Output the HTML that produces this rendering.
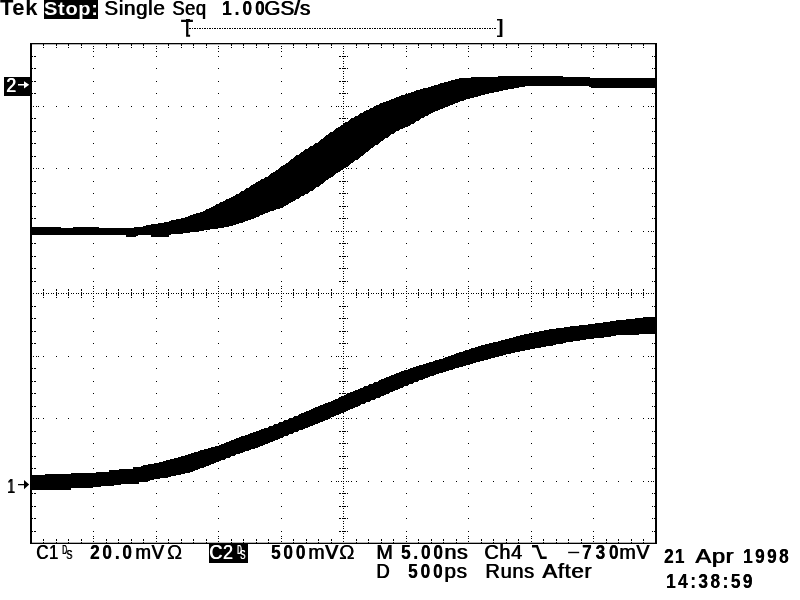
<!DOCTYPE html>
<html><head><meta charset="utf-8"><title>Tek</title>
<style>
html,body{margin:0;padding:0;background:#fff;}
body{width:800px;height:600px;position:relative;overflow:hidden;font-family:"Liberation Sans",sans-serif;color:#000;}
.t{position:absolute;white-space:pre;transform-origin:0 50%;}
.bx{position:absolute;background:#000;}
svg{position:absolute;left:0;top:0;}
.sm{position:absolute;font-size:12.5px;line-height:12px;white-space:pre;transform-origin:0 50%;text-shadow:0.9px 0 0 currentColor;}
</style></head><body>
<svg width="800" height="600" viewBox="0 0 800 600">
<g transform="translate(0.6 0.5) scale(1.25)" shape-rendering="crispEdges"><path d="M34 35h1v1h-1zM44 35h1v1h-1zM54 35h1v1h-1zM64 35h1v1h-1zM84 35h1v1h-1zM94 35h1v1h-1zM104 35h1v1h-1zM114 35h1v1h-1zM134 35h1v1h-1zM144 35h1v1h-1zM154 35h1v1h-1zM164 35h1v1h-1zM184 35h1v1h-1zM194 35h1v1h-1zM204 35h1v1h-1zM214 35h1v1h-1zM234 35h1v1h-1zM244 35h1v1h-1zM254 35h1v1h-1zM264 35h1v1h-1zM284 35h1v1h-1zM294 35h1v1h-1zM304 35h1v1h-1zM314 35h1v1h-1zM334 35h1v1h-1zM344 35h1v1h-1zM354 35h1v1h-1zM364 35h1v1h-1zM384 35h1v1h-1zM394 35h1v1h-1zM404 35h1v1h-1zM414 35h1v1h-1zM434 35h1v1h-1zM444 35h1v1h-1zM454 35h1v1h-1zM464 35h1v1h-1zM484 35h1v1h-1zM494 35h1v1h-1zM504 35h1v1h-1zM514 35h1v1h-1zM74 36h1v1h-1zM124 36h1v1h-1zM174 36h1v1h-1zM224 36h1v1h-1zM274 36h1v1h-1zM324 36h1v1h-1zM374 36h1v1h-1zM424 36h1v1h-1zM474 36h1v1h-1zM34 37h1v1h-1zM44 37h1v1h-1zM54 37h1v1h-1zM64 37h1v1h-1zM84 37h1v1h-1zM94 37h1v1h-1zM104 37h1v1h-1zM114 37h1v1h-1zM134 37h1v1h-1zM144 37h1v1h-1zM154 37h1v1h-1zM164 37h1v1h-1zM184 37h1v1h-1zM194 37h1v1h-1zM204 37h1v1h-1zM214 37h1v1h-1zM234 37h1v1h-1zM244 37h1v1h-1zM254 37h1v1h-1zM264 37h1v1h-1zM284 37h1v1h-1zM294 37h1v1h-1zM304 37h1v1h-1zM314 37h1v1h-1zM334 37h1v1h-1zM344 37h1v1h-1zM354 37h1v1h-1zM364 37h1v1h-1zM384 37h1v1h-1zM394 37h1v1h-1zM404 37h1v1h-1zM414 37h1v1h-1zM434 37h1v1h-1zM444 37h1v1h-1zM454 37h1v1h-1zM464 37h1v1h-1zM484 37h1v1h-1zM494 37h1v1h-1zM504 37h1v1h-1zM514 37h1v1h-1zM74 38h1v1h-1zM124 38h1v1h-1zM174 38h1v1h-1zM224 38h1v1h-1zM274 38h1v1h-1zM324 38h1v1h-1zM374 38h1v1h-1zM424 38h1v1h-1zM474 38h1v1h-1zM74 40h1v1h-1zM124 40h1v1h-1zM174 40h1v1h-1zM224 40h1v1h-1zM274 40h1v1h-1zM324 40h1v1h-1zM374 40h1v1h-1zM424 40h1v1h-1zM474 40h1v1h-1zM274 42h1v1h-1zM25 44h1v1h-1zM27 44h1v1h-1zM74 44h1v1h-1zM124 44h1v1h-1zM174 44h1v1h-1zM224 44h1v1h-1zM271 44h1v1h-1zM273 44h1v1h-1zM274 44h1v1h-1zM275 44h1v1h-1zM277 44h1v1h-1zM324 44h1v1h-1zM374 44h1v1h-1zM424 44h1v1h-1zM474 44h1v1h-1zM521 44h1v1h-1zM523 44h1v1h-1zM274 46h1v1h-1zM274 48h1v1h-1zM274 50h1v1h-1zM274 52h1v1h-1zM25 54h1v1h-1zM27 54h1v1h-1zM74 54h1v1h-1zM124 54h1v1h-1zM174 54h1v1h-1zM224 54h1v1h-1zM271 54h1v1h-1zM273 54h1v1h-1zM274 54h1v1h-1zM275 54h1v1h-1zM277 54h1v1h-1zM324 54h1v1h-1zM374 54h1v1h-1zM424 54h1v1h-1zM474 54h1v1h-1zM521 54h1v1h-1zM523 54h1v1h-1zM274 56h1v1h-1zM274 58h1v1h-1zM274 60h1v1h-1zM274 62h1v1h-1zM25 64h1v1h-1zM27 64h1v1h-1zM74 64h1v1h-1zM124 64h1v1h-1zM174 64h1v1h-1zM224 64h1v1h-1zM271 64h1v1h-1zM273 64h1v1h-1zM274 64h1v1h-1zM275 64h1v1h-1zM277 64h1v1h-1zM324 64h1v1h-1zM374 64h1v1h-1zM424 64h1v1h-1zM474 64h1v1h-1zM521 64h1v1h-1zM523 64h1v1h-1zM274 66h1v1h-1zM274 68h1v1h-1zM274 70h1v1h-1zM274 72h1v1h-1zM25 74h1v1h-1zM27 74h1v1h-1zM74 74h1v1h-1zM124 74h1v1h-1zM174 74h1v1h-1zM224 74h1v1h-1zM271 74h1v1h-1zM273 74h1v1h-1zM274 74h1v1h-1zM275 74h1v1h-1zM277 74h1v1h-1zM324 74h1v1h-1zM374 74h1v1h-1zM424 74h1v1h-1zM474 74h1v1h-1zM521 74h1v1h-1zM523 74h1v1h-1zM274 76h1v1h-1zM274 78h1v1h-1zM274 80h1v1h-1zM274 82h1v1h-1zM26 84h1v1h-1zM28 84h1v1h-1zM30 84h1v1h-1zM34 84h1v1h-1zM44 84h1v1h-1zM54 84h1v1h-1zM64 84h1v1h-1zM74 84h1v1h-1zM84 84h1v1h-1zM94 84h1v1h-1zM104 84h1v1h-1zM114 84h1v1h-1zM124 84h1v1h-1zM134 84h1v1h-1zM144 84h1v1h-1zM154 84h1v1h-1zM164 84h1v1h-1zM174 84h1v1h-1zM184 84h1v1h-1zM194 84h1v1h-1zM204 84h1v1h-1zM214 84h1v1h-1zM224 84h1v1h-1zM234 84h1v1h-1zM244 84h1v1h-1zM254 84h1v1h-1zM264 84h1v1h-1zM268 84h1v1h-1zM270 84h1v1h-1zM272 84h1v1h-1zM274 84h1v1h-1zM276 84h1v1h-1zM278 84h1v1h-1zM280 84h1v1h-1zM284 84h1v1h-1zM294 84h1v1h-1zM304 84h1v1h-1zM314 84h1v1h-1zM324 84h1v1h-1zM334 84h1v1h-1zM344 84h1v1h-1zM354 84h1v1h-1zM364 84h1v1h-1zM374 84h1v1h-1zM384 84h1v1h-1zM394 84h1v1h-1zM404 84h1v1h-1zM414 84h1v1h-1zM424 84h1v1h-1zM434 84h1v1h-1zM444 84h1v1h-1zM454 84h1v1h-1zM464 84h1v1h-1zM474 84h1v1h-1zM484 84h1v1h-1zM494 84h1v1h-1zM504 84h1v1h-1zM514 84h1v1h-1zM518 84h1v1h-1zM520 84h1v1h-1zM522 84h1v1h-1zM274 86h1v1h-1zM274 88h1v1h-1zM274 90h1v1h-1zM274 92h1v1h-1zM25 94h1v1h-1zM27 94h1v1h-1zM74 94h1v1h-1zM124 94h1v1h-1zM174 94h1v1h-1zM224 94h1v1h-1zM271 94h1v1h-1zM273 94h1v1h-1zM274 94h1v1h-1zM275 94h1v1h-1zM277 94h1v1h-1zM324 94h1v1h-1zM374 94h1v1h-1zM424 94h1v1h-1zM474 94h1v1h-1zM521 94h1v1h-1zM523 94h1v1h-1zM274 96h1v1h-1zM274 98h1v1h-1zM274 100h1v1h-1zM274 102h1v1h-1zM25 104h1v1h-1zM27 104h1v1h-1zM74 104h1v1h-1zM124 104h1v1h-1zM174 104h1v1h-1zM224 104h1v1h-1zM271 104h1v1h-1zM273 104h1v1h-1zM274 104h1v1h-1zM275 104h1v1h-1zM277 104h1v1h-1zM324 104h1v1h-1zM374 104h1v1h-1zM424 104h1v1h-1zM474 104h1v1h-1zM521 104h1v1h-1zM523 104h1v1h-1zM274 106h1v1h-1zM274 108h1v1h-1zM274 110h1v1h-1zM274 112h1v1h-1zM25 114h1v1h-1zM27 114h1v1h-1zM74 114h1v1h-1zM124 114h1v1h-1zM174 114h1v1h-1zM224 114h1v1h-1zM271 114h1v1h-1zM273 114h1v1h-1zM274 114h1v1h-1zM275 114h1v1h-1zM277 114h1v1h-1zM324 114h1v1h-1zM374 114h1v1h-1zM424 114h1v1h-1zM474 114h1v1h-1zM521 114h1v1h-1zM523 114h1v1h-1zM274 116h1v1h-1zM274 118h1v1h-1zM274 120h1v1h-1zM274 122h1v1h-1zM25 124h1v1h-1zM27 124h1v1h-1zM74 124h1v1h-1zM124 124h1v1h-1zM174 124h1v1h-1zM224 124h1v1h-1zM271 124h1v1h-1zM273 124h1v1h-1zM274 124h1v1h-1zM275 124h1v1h-1zM277 124h1v1h-1zM324 124h1v1h-1zM374 124h1v1h-1zM424 124h1v1h-1zM474 124h1v1h-1zM521 124h1v1h-1zM523 124h1v1h-1zM274 126h1v1h-1zM274 128h1v1h-1zM274 130h1v1h-1zM274 132h1v1h-1zM26 134h1v1h-1zM28 134h1v1h-1zM30 134h1v1h-1zM34 134h1v1h-1zM44 134h1v1h-1zM54 134h1v1h-1zM64 134h1v1h-1zM74 134h1v1h-1zM84 134h1v1h-1zM94 134h1v1h-1zM104 134h1v1h-1zM114 134h1v1h-1zM124 134h1v1h-1zM134 134h1v1h-1zM144 134h1v1h-1zM154 134h1v1h-1zM164 134h1v1h-1zM174 134h1v1h-1zM184 134h1v1h-1zM194 134h1v1h-1zM204 134h1v1h-1zM214 134h1v1h-1zM224 134h1v1h-1zM234 134h1v1h-1zM244 134h1v1h-1zM254 134h1v1h-1zM264 134h1v1h-1zM268 134h1v1h-1zM270 134h1v1h-1zM272 134h1v1h-1zM274 134h1v1h-1zM276 134h1v1h-1zM278 134h1v1h-1zM280 134h1v1h-1zM284 134h1v1h-1zM294 134h1v1h-1zM304 134h1v1h-1zM314 134h1v1h-1zM324 134h1v1h-1zM334 134h1v1h-1zM344 134h1v1h-1zM354 134h1v1h-1zM364 134h1v1h-1zM374 134h1v1h-1zM384 134h1v1h-1zM394 134h1v1h-1zM404 134h1v1h-1zM414 134h1v1h-1zM424 134h1v1h-1zM434 134h1v1h-1zM444 134h1v1h-1zM454 134h1v1h-1zM464 134h1v1h-1zM474 134h1v1h-1zM484 134h1v1h-1zM494 134h1v1h-1zM504 134h1v1h-1zM514 134h1v1h-1zM518 134h1v1h-1zM520 134h1v1h-1zM522 134h1v1h-1zM274 136h1v1h-1zM274 138h1v1h-1zM274 140h1v1h-1zM274 142h1v1h-1zM25 144h1v1h-1zM27 144h1v1h-1zM74 144h1v1h-1zM124 144h1v1h-1zM174 144h1v1h-1zM224 144h1v1h-1zM271 144h1v1h-1zM273 144h1v1h-1zM274 144h1v1h-1zM275 144h1v1h-1zM277 144h1v1h-1zM324 144h1v1h-1zM374 144h1v1h-1zM424 144h1v1h-1zM474 144h1v1h-1zM521 144h1v1h-1zM523 144h1v1h-1zM274 146h1v1h-1zM274 148h1v1h-1zM274 150h1v1h-1zM274 152h1v1h-1zM25 154h1v1h-1zM27 154h1v1h-1zM74 154h1v1h-1zM124 154h1v1h-1zM174 154h1v1h-1zM224 154h1v1h-1zM271 154h1v1h-1zM273 154h1v1h-1zM274 154h1v1h-1zM275 154h1v1h-1zM277 154h1v1h-1zM324 154h1v1h-1zM374 154h1v1h-1zM424 154h1v1h-1zM474 154h1v1h-1zM521 154h1v1h-1zM523 154h1v1h-1zM274 156h1v1h-1zM274 158h1v1h-1zM274 160h1v1h-1zM274 162h1v1h-1zM25 164h1v1h-1zM27 164h1v1h-1zM74 164h1v1h-1zM124 164h1v1h-1zM174 164h1v1h-1zM224 164h1v1h-1zM271 164h1v1h-1zM273 164h1v1h-1zM274 164h1v1h-1zM275 164h1v1h-1zM277 164h1v1h-1zM324 164h1v1h-1zM374 164h1v1h-1zM424 164h1v1h-1zM474 164h1v1h-1zM521 164h1v1h-1zM523 164h1v1h-1zM274 166h1v1h-1zM274 168h1v1h-1zM274 170h1v1h-1zM274 172h1v1h-1zM25 174h1v1h-1zM27 174h1v1h-1zM74 174h1v1h-1zM124 174h1v1h-1zM174 174h1v1h-1zM224 174h1v1h-1zM271 174h1v1h-1zM273 174h1v1h-1zM274 174h1v1h-1zM275 174h1v1h-1zM277 174h1v1h-1zM324 174h1v1h-1zM374 174h1v1h-1zM424 174h1v1h-1zM474 174h1v1h-1zM521 174h1v1h-1zM523 174h1v1h-1zM274 176h1v1h-1zM274 178h1v1h-1zM274 180h1v1h-1zM274 182h1v1h-1zM26 184h1v1h-1zM28 184h1v1h-1zM30 184h1v1h-1zM34 184h1v1h-1zM44 184h1v1h-1zM54 184h1v1h-1zM64 184h1v1h-1zM74 184h1v1h-1zM84 184h1v1h-1zM94 184h1v1h-1zM104 184h1v1h-1zM114 184h1v1h-1zM124 184h1v1h-1zM134 184h1v1h-1zM144 184h1v1h-1zM154 184h1v1h-1zM164 184h1v1h-1zM174 184h1v1h-1zM184 184h1v1h-1zM194 184h1v1h-1zM204 184h1v1h-1zM214 184h1v1h-1zM224 184h1v1h-1zM234 184h1v1h-1zM244 184h1v1h-1zM254 184h1v1h-1zM264 184h1v1h-1zM268 184h1v1h-1zM270 184h1v1h-1zM272 184h1v1h-1zM274 184h1v1h-1zM276 184h1v1h-1zM278 184h1v1h-1zM280 184h1v1h-1zM284 184h1v1h-1zM294 184h1v1h-1zM304 184h1v1h-1zM314 184h1v1h-1zM324 184h1v1h-1zM334 184h1v1h-1zM344 184h1v1h-1zM354 184h1v1h-1zM364 184h1v1h-1zM374 184h1v1h-1zM384 184h1v1h-1zM394 184h1v1h-1zM404 184h1v1h-1zM414 184h1v1h-1zM424 184h1v1h-1zM434 184h1v1h-1zM444 184h1v1h-1zM454 184h1v1h-1zM464 184h1v1h-1zM474 184h1v1h-1zM484 184h1v1h-1zM494 184h1v1h-1zM504 184h1v1h-1zM514 184h1v1h-1zM518 184h1v1h-1zM520 184h1v1h-1zM522 184h1v1h-1zM274 186h1v1h-1zM274 188h1v1h-1zM274 190h1v1h-1zM274 192h1v1h-1zM25 194h1v1h-1zM27 194h1v1h-1zM74 194h1v1h-1zM124 194h1v1h-1zM174 194h1v1h-1zM224 194h1v1h-1zM271 194h1v1h-1zM273 194h1v1h-1zM274 194h1v1h-1zM275 194h1v1h-1zM277 194h1v1h-1zM324 194h1v1h-1zM374 194h1v1h-1zM424 194h1v1h-1zM474 194h1v1h-1zM521 194h1v1h-1zM523 194h1v1h-1zM274 196h1v1h-1zM274 198h1v1h-1zM274 200h1v1h-1zM274 202h1v1h-1zM25 204h1v1h-1zM27 204h1v1h-1zM74 204h1v1h-1zM124 204h1v1h-1zM174 204h1v1h-1zM224 204h1v1h-1zM271 204h1v1h-1zM273 204h1v1h-1zM274 204h1v1h-1zM275 204h1v1h-1zM277 204h1v1h-1zM324 204h1v1h-1zM374 204h1v1h-1zM424 204h1v1h-1zM474 204h1v1h-1zM521 204h1v1h-1zM523 204h1v1h-1zM274 206h1v1h-1zM274 208h1v1h-1zM274 210h1v1h-1zM274 212h1v1h-1zM25 214h1v1h-1zM27 214h1v1h-1zM74 214h1v1h-1zM124 214h1v1h-1zM174 214h1v1h-1zM224 214h1v1h-1zM271 214h1v1h-1zM273 214h1v1h-1zM274 214h1v1h-1zM275 214h1v1h-1zM277 214h1v1h-1zM324 214h1v1h-1zM374 214h1v1h-1zM424 214h1v1h-1zM474 214h1v1h-1zM521 214h1v1h-1zM523 214h1v1h-1zM274 216h1v1h-1zM274 218h1v1h-1zM274 220h1v1h-1zM274 222h1v1h-1zM25 224h1v1h-1zM27 224h1v1h-1zM74 224h1v1h-1zM124 224h1v1h-1zM174 224h1v1h-1zM224 224h1v1h-1zM271 224h1v1h-1zM273 224h1v1h-1zM274 224h1v1h-1zM275 224h1v1h-1zM277 224h1v1h-1zM324 224h1v1h-1zM374 224h1v1h-1zM424 224h1v1h-1zM474 224h1v1h-1zM521 224h1v1h-1zM523 224h1v1h-1zM274 226h1v1h-1zM74 228h1v1h-1zM124 228h1v1h-1zM174 228h1v1h-1zM224 228h1v1h-1zM274 228h1v1h-1zM324 228h1v1h-1zM374 228h1v1h-1zM424 228h1v1h-1zM474 228h1v1h-1zM74 230h1v1h-1zM124 230h1v1h-1zM174 230h1v1h-1zM224 230h1v1h-1zM274 230h1v1h-1zM324 230h1v1h-1zM374 230h1v1h-1zM424 230h1v1h-1zM474 230h1v1h-1zM34 231h1v1h-1zM44 231h1v1h-1zM54 231h1v1h-1zM64 231h1v1h-1zM84 231h1v1h-1zM94 231h1v1h-1zM104 231h1v1h-1zM114 231h1v1h-1zM134 231h1v1h-1zM144 231h1v1h-1zM154 231h1v1h-1zM164 231h1v1h-1zM184 231h1v1h-1zM194 231h1v1h-1zM204 231h1v1h-1zM214 231h1v1h-1zM234 231h1v1h-1zM244 231h1v1h-1zM254 231h1v1h-1zM264 231h1v1h-1zM284 231h1v1h-1zM294 231h1v1h-1zM304 231h1v1h-1zM314 231h1v1h-1zM334 231h1v1h-1zM344 231h1v1h-1zM354 231h1v1h-1zM364 231h1v1h-1zM384 231h1v1h-1zM394 231h1v1h-1zM404 231h1v1h-1zM414 231h1v1h-1zM434 231h1v1h-1zM444 231h1v1h-1zM454 231h1v1h-1zM464 231h1v1h-1zM484 231h1v1h-1zM494 231h1v1h-1zM504 231h1v1h-1zM514 231h1v1h-1zM74 232h1v1h-1zM124 232h1v1h-1zM174 232h1v1h-1zM224 232h1v1h-1zM274 232h1v1h-1zM324 232h1v1h-1zM374 232h1v1h-1zM424 232h1v1h-1zM474 232h1v1h-1zM34 233h1v1h-1zM44 233h1v1h-1zM54 233h1v1h-1zM64 233h1v1h-1zM84 233h1v1h-1zM94 233h1v1h-1zM104 233h1v1h-1zM114 233h1v1h-1zM134 233h1v1h-1zM144 233h1v1h-1zM154 233h1v1h-1zM164 233h1v1h-1zM184 233h1v1h-1zM194 233h1v1h-1zM204 233h1v1h-1zM214 233h1v1h-1zM234 233h1v1h-1zM244 233h1v1h-1zM254 233h1v1h-1zM264 233h1v1h-1zM284 233h1v1h-1zM294 233h1v1h-1zM304 233h1v1h-1zM314 233h1v1h-1zM334 233h1v1h-1zM344 233h1v1h-1zM354 233h1v1h-1zM364 233h1v1h-1zM384 233h1v1h-1zM394 233h1v1h-1zM404 233h1v1h-1zM414 233h1v1h-1zM434 233h1v1h-1zM444 233h1v1h-1zM454 233h1v1h-1zM464 233h1v1h-1zM484 233h1v1h-1zM494 233h1v1h-1zM504 233h1v1h-1zM514 233h1v1h-1zM26 234h1v1h-1zM28 234h1v1h-1zM30 234h1v1h-1zM32 234h1v1h-1zM34 234h1v1h-1zM36 234h1v1h-1zM38 234h1v1h-1zM40 234h1v1h-1zM42 234h1v1h-1zM44 234h1v1h-1zM46 234h1v1h-1zM48 234h1v1h-1zM50 234h1v1h-1zM52 234h1v1h-1zM54 234h1v1h-1zM56 234h1v1h-1zM58 234h1v1h-1zM60 234h1v1h-1zM62 234h1v1h-1zM64 234h1v1h-1zM66 234h1v1h-1zM68 234h1v1h-1zM70 234h1v1h-1zM72 234h1v1h-1zM74 234h1v1h-1zM76 234h1v1h-1zM78 234h1v1h-1zM80 234h1v1h-1zM82 234h1v1h-1zM84 234h1v1h-1zM86 234h1v1h-1zM88 234h1v1h-1zM90 234h1v1h-1zM92 234h1v1h-1zM94 234h1v1h-1zM96 234h1v1h-1zM98 234h1v1h-1zM100 234h1v1h-1zM102 234h1v1h-1zM104 234h1v1h-1zM106 234h1v1h-1zM108 234h1v1h-1zM110 234h1v1h-1zM112 234h1v1h-1zM114 234h1v1h-1zM116 234h1v1h-1zM118 234h1v1h-1zM120 234h1v1h-1zM122 234h1v1h-1zM124 234h1v1h-1zM126 234h1v1h-1zM128 234h1v1h-1zM130 234h1v1h-1zM132 234h1v1h-1zM134 234h1v1h-1zM136 234h1v1h-1zM138 234h1v1h-1zM140 234h1v1h-1zM142 234h1v1h-1zM144 234h1v1h-1zM146 234h1v1h-1zM148 234h1v1h-1zM150 234h1v1h-1zM152 234h1v1h-1zM154 234h1v1h-1zM156 234h1v1h-1zM158 234h1v1h-1zM160 234h1v1h-1zM162 234h1v1h-1zM164 234h1v1h-1zM166 234h1v1h-1zM168 234h1v1h-1zM170 234h1v1h-1zM172 234h1v1h-1zM174 234h1v1h-1zM176 234h1v1h-1zM178 234h1v1h-1zM180 234h1v1h-1zM182 234h1v1h-1zM184 234h1v1h-1zM186 234h1v1h-1zM188 234h1v1h-1zM190 234h1v1h-1zM192 234h1v1h-1zM194 234h1v1h-1zM196 234h1v1h-1zM198 234h1v1h-1zM200 234h1v1h-1zM202 234h1v1h-1zM204 234h1v1h-1zM206 234h1v1h-1zM208 234h1v1h-1zM210 234h1v1h-1zM212 234h1v1h-1zM214 234h1v1h-1zM216 234h1v1h-1zM218 234h1v1h-1zM220 234h1v1h-1zM222 234h1v1h-1zM224 234h1v1h-1zM226 234h1v1h-1zM228 234h1v1h-1zM230 234h1v1h-1zM232 234h1v1h-1zM234 234h1v1h-1zM236 234h1v1h-1zM238 234h1v1h-1zM240 234h1v1h-1zM242 234h1v1h-1zM244 234h1v1h-1zM246 234h1v1h-1zM248 234h1v1h-1zM250 234h1v1h-1zM252 234h1v1h-1zM254 234h1v1h-1zM256 234h1v1h-1zM258 234h1v1h-1zM260 234h1v1h-1zM262 234h1v1h-1zM264 234h1v1h-1zM266 234h1v1h-1zM268 234h1v1h-1zM270 234h1v1h-1zM272 234h1v1h-1zM274 234h1v1h-1zM276 234h1v1h-1zM278 234h1v1h-1zM280 234h1v1h-1zM282 234h1v1h-1zM284 234h1v1h-1zM286 234h1v1h-1zM288 234h1v1h-1zM290 234h1v1h-1zM292 234h1v1h-1zM294 234h1v1h-1zM296 234h1v1h-1zM298 234h1v1h-1zM300 234h1v1h-1zM302 234h1v1h-1zM304 234h1v1h-1zM306 234h1v1h-1zM308 234h1v1h-1zM310 234h1v1h-1zM312 234h1v1h-1zM314 234h1v1h-1zM316 234h1v1h-1zM318 234h1v1h-1zM320 234h1v1h-1zM322 234h1v1h-1zM324 234h1v1h-1zM326 234h1v1h-1zM328 234h1v1h-1zM330 234h1v1h-1zM332 234h1v1h-1zM334 234h1v1h-1zM336 234h1v1h-1zM338 234h1v1h-1zM340 234h1v1h-1zM342 234h1v1h-1zM344 234h1v1h-1zM346 234h1v1h-1zM348 234h1v1h-1zM350 234h1v1h-1zM352 234h1v1h-1zM354 234h1v1h-1zM356 234h1v1h-1zM358 234h1v1h-1zM360 234h1v1h-1zM362 234h1v1h-1zM364 234h1v1h-1zM366 234h1v1h-1zM368 234h1v1h-1zM370 234h1v1h-1zM372 234h1v1h-1zM374 234h1v1h-1zM376 234h1v1h-1zM378 234h1v1h-1zM380 234h1v1h-1zM382 234h1v1h-1zM384 234h1v1h-1zM386 234h1v1h-1zM388 234h1v1h-1zM390 234h1v1h-1zM392 234h1v1h-1zM394 234h1v1h-1zM396 234h1v1h-1zM398 234h1v1h-1zM400 234h1v1h-1zM402 234h1v1h-1zM404 234h1v1h-1zM406 234h1v1h-1zM408 234h1v1h-1zM410 234h1v1h-1zM412 234h1v1h-1zM414 234h1v1h-1zM416 234h1v1h-1zM418 234h1v1h-1zM420 234h1v1h-1zM422 234h1v1h-1zM424 234h1v1h-1zM426 234h1v1h-1zM428 234h1v1h-1zM430 234h1v1h-1zM432 234h1v1h-1zM434 234h1v1h-1zM436 234h1v1h-1zM438 234h1v1h-1zM440 234h1v1h-1zM442 234h1v1h-1zM444 234h1v1h-1zM446 234h1v1h-1zM448 234h1v1h-1zM450 234h1v1h-1zM452 234h1v1h-1zM454 234h1v1h-1zM456 234h1v1h-1zM458 234h1v1h-1zM460 234h1v1h-1zM462 234h1v1h-1zM464 234h1v1h-1zM466 234h1v1h-1zM468 234h1v1h-1zM470 234h1v1h-1zM472 234h1v1h-1zM474 234h1v1h-1zM476 234h1v1h-1zM478 234h1v1h-1zM480 234h1v1h-1zM482 234h1v1h-1zM484 234h1v1h-1zM486 234h1v1h-1zM488 234h1v1h-1zM490 234h1v1h-1zM492 234h1v1h-1zM494 234h1v1h-1zM496 234h1v1h-1zM498 234h1v1h-1zM500 234h1v1h-1zM502 234h1v1h-1zM504 234h1v1h-1zM506 234h1v1h-1zM508 234h1v1h-1zM510 234h1v1h-1zM512 234h1v1h-1zM514 234h1v1h-1zM516 234h1v1h-1zM518 234h1v1h-1zM520 234h1v1h-1zM522 234h1v1h-1zM34 235h1v1h-1zM44 235h1v1h-1zM54 235h1v1h-1zM64 235h1v1h-1zM84 235h1v1h-1zM94 235h1v1h-1zM104 235h1v1h-1zM114 235h1v1h-1zM134 235h1v1h-1zM144 235h1v1h-1zM154 235h1v1h-1zM164 235h1v1h-1zM184 235h1v1h-1zM194 235h1v1h-1zM204 235h1v1h-1zM214 235h1v1h-1zM234 235h1v1h-1zM244 235h1v1h-1zM254 235h1v1h-1zM264 235h1v1h-1zM284 235h1v1h-1zM294 235h1v1h-1zM304 235h1v1h-1zM314 235h1v1h-1zM334 235h1v1h-1zM344 235h1v1h-1zM354 235h1v1h-1zM364 235h1v1h-1zM384 235h1v1h-1zM394 235h1v1h-1zM404 235h1v1h-1zM414 235h1v1h-1zM434 235h1v1h-1zM444 235h1v1h-1zM454 235h1v1h-1zM464 235h1v1h-1zM484 235h1v1h-1zM494 235h1v1h-1zM504 235h1v1h-1zM514 235h1v1h-1zM74 236h1v1h-1zM124 236h1v1h-1zM174 236h1v1h-1zM224 236h1v1h-1zM274 236h1v1h-1zM324 236h1v1h-1zM374 236h1v1h-1zM424 236h1v1h-1zM474 236h1v1h-1zM34 237h1v1h-1zM44 237h1v1h-1zM54 237h1v1h-1zM64 237h1v1h-1zM84 237h1v1h-1zM94 237h1v1h-1zM104 237h1v1h-1zM114 237h1v1h-1zM134 237h1v1h-1zM144 237h1v1h-1zM154 237h1v1h-1zM164 237h1v1h-1zM184 237h1v1h-1zM194 237h1v1h-1zM204 237h1v1h-1zM214 237h1v1h-1zM234 237h1v1h-1zM244 237h1v1h-1zM254 237h1v1h-1zM264 237h1v1h-1zM284 237h1v1h-1zM294 237h1v1h-1zM304 237h1v1h-1zM314 237h1v1h-1zM334 237h1v1h-1zM344 237h1v1h-1zM354 237h1v1h-1zM364 237h1v1h-1zM384 237h1v1h-1zM394 237h1v1h-1zM404 237h1v1h-1zM414 237h1v1h-1zM434 237h1v1h-1zM444 237h1v1h-1zM454 237h1v1h-1zM464 237h1v1h-1zM484 237h1v1h-1zM494 237h1v1h-1zM504 237h1v1h-1zM514 237h1v1h-1zM74 238h1v1h-1zM124 238h1v1h-1zM174 238h1v1h-1zM224 238h1v1h-1zM274 238h1v1h-1zM324 238h1v1h-1zM374 238h1v1h-1zM424 238h1v1h-1zM474 238h1v1h-1zM74 240h1v1h-1zM124 240h1v1h-1zM174 240h1v1h-1zM224 240h1v1h-1zM274 240h1v1h-1zM324 240h1v1h-1zM374 240h1v1h-1zM424 240h1v1h-1zM474 240h1v1h-1zM274 242h1v1h-1zM25 244h1v1h-1zM27 244h1v1h-1zM74 244h1v1h-1zM124 244h1v1h-1zM174 244h1v1h-1zM224 244h1v1h-1zM271 244h1v1h-1zM273 244h1v1h-1zM274 244h1v1h-1zM275 244h1v1h-1zM277 244h1v1h-1zM324 244h1v1h-1zM374 244h1v1h-1zM424 244h1v1h-1zM474 244h1v1h-1zM521 244h1v1h-1zM523 244h1v1h-1zM274 246h1v1h-1zM274 248h1v1h-1zM274 250h1v1h-1zM274 252h1v1h-1zM25 254h1v1h-1zM27 254h1v1h-1zM74 254h1v1h-1zM124 254h1v1h-1zM174 254h1v1h-1zM224 254h1v1h-1zM271 254h1v1h-1zM273 254h1v1h-1zM274 254h1v1h-1zM275 254h1v1h-1zM277 254h1v1h-1zM324 254h1v1h-1zM374 254h1v1h-1zM424 254h1v1h-1zM474 254h1v1h-1zM521 254h1v1h-1zM523 254h1v1h-1zM274 256h1v1h-1zM274 258h1v1h-1zM274 260h1v1h-1zM274 262h1v1h-1zM25 264h1v1h-1zM27 264h1v1h-1zM74 264h1v1h-1zM124 264h1v1h-1zM174 264h1v1h-1zM224 264h1v1h-1zM271 264h1v1h-1zM273 264h1v1h-1zM274 264h1v1h-1zM275 264h1v1h-1zM277 264h1v1h-1zM324 264h1v1h-1zM374 264h1v1h-1zM424 264h1v1h-1zM474 264h1v1h-1zM521 264h1v1h-1zM523 264h1v1h-1zM274 266h1v1h-1zM274 268h1v1h-1zM274 270h1v1h-1zM274 272h1v1h-1zM25 274h1v1h-1zM27 274h1v1h-1zM74 274h1v1h-1zM124 274h1v1h-1zM174 274h1v1h-1zM224 274h1v1h-1zM271 274h1v1h-1zM273 274h1v1h-1zM274 274h1v1h-1zM275 274h1v1h-1zM277 274h1v1h-1zM324 274h1v1h-1zM374 274h1v1h-1zM424 274h1v1h-1zM474 274h1v1h-1zM521 274h1v1h-1zM523 274h1v1h-1zM274 276h1v1h-1zM274 278h1v1h-1zM274 280h1v1h-1zM274 282h1v1h-1zM26 284h1v1h-1zM28 284h1v1h-1zM30 284h1v1h-1zM34 284h1v1h-1zM44 284h1v1h-1zM54 284h1v1h-1zM64 284h1v1h-1zM74 284h1v1h-1zM84 284h1v1h-1zM94 284h1v1h-1zM104 284h1v1h-1zM114 284h1v1h-1zM124 284h1v1h-1zM134 284h1v1h-1zM144 284h1v1h-1zM154 284h1v1h-1zM164 284h1v1h-1zM174 284h1v1h-1zM184 284h1v1h-1zM194 284h1v1h-1zM204 284h1v1h-1zM214 284h1v1h-1zM224 284h1v1h-1zM234 284h1v1h-1zM244 284h1v1h-1zM254 284h1v1h-1zM264 284h1v1h-1zM268 284h1v1h-1zM270 284h1v1h-1zM272 284h1v1h-1zM274 284h1v1h-1zM276 284h1v1h-1zM278 284h1v1h-1zM280 284h1v1h-1zM284 284h1v1h-1zM294 284h1v1h-1zM304 284h1v1h-1zM314 284h1v1h-1zM324 284h1v1h-1zM334 284h1v1h-1zM344 284h1v1h-1zM354 284h1v1h-1zM364 284h1v1h-1zM374 284h1v1h-1zM384 284h1v1h-1zM394 284h1v1h-1zM404 284h1v1h-1zM414 284h1v1h-1zM424 284h1v1h-1zM434 284h1v1h-1zM444 284h1v1h-1zM454 284h1v1h-1zM464 284h1v1h-1zM474 284h1v1h-1zM484 284h1v1h-1zM494 284h1v1h-1zM504 284h1v1h-1zM514 284h1v1h-1zM518 284h1v1h-1zM520 284h1v1h-1zM522 284h1v1h-1zM274 286h1v1h-1zM274 288h1v1h-1zM274 290h1v1h-1zM274 292h1v1h-1zM25 294h1v1h-1zM27 294h1v1h-1zM74 294h1v1h-1zM124 294h1v1h-1zM174 294h1v1h-1zM224 294h1v1h-1zM271 294h1v1h-1zM273 294h1v1h-1zM274 294h1v1h-1zM275 294h1v1h-1zM277 294h1v1h-1zM324 294h1v1h-1zM374 294h1v1h-1zM424 294h1v1h-1zM474 294h1v1h-1zM521 294h1v1h-1zM523 294h1v1h-1zM274 296h1v1h-1zM274 298h1v1h-1zM274 300h1v1h-1zM274 302h1v1h-1zM25 304h1v1h-1zM27 304h1v1h-1zM74 304h1v1h-1zM124 304h1v1h-1zM174 304h1v1h-1zM224 304h1v1h-1zM271 304h1v1h-1zM273 304h1v1h-1zM274 304h1v1h-1zM275 304h1v1h-1zM277 304h1v1h-1zM324 304h1v1h-1zM374 304h1v1h-1zM424 304h1v1h-1zM474 304h1v1h-1zM521 304h1v1h-1zM523 304h1v1h-1zM274 306h1v1h-1zM274 308h1v1h-1zM274 310h1v1h-1zM274 312h1v1h-1zM25 314h1v1h-1zM27 314h1v1h-1zM74 314h1v1h-1zM124 314h1v1h-1zM174 314h1v1h-1zM224 314h1v1h-1zM271 314h1v1h-1zM273 314h1v1h-1zM274 314h1v1h-1zM275 314h1v1h-1zM277 314h1v1h-1zM324 314h1v1h-1zM374 314h1v1h-1zM424 314h1v1h-1zM474 314h1v1h-1zM521 314h1v1h-1zM523 314h1v1h-1zM274 316h1v1h-1zM274 318h1v1h-1zM274 320h1v1h-1zM274 322h1v1h-1zM25 324h1v1h-1zM27 324h1v1h-1zM74 324h1v1h-1zM124 324h1v1h-1zM174 324h1v1h-1zM224 324h1v1h-1zM271 324h1v1h-1zM273 324h1v1h-1zM274 324h1v1h-1zM275 324h1v1h-1zM277 324h1v1h-1zM324 324h1v1h-1zM374 324h1v1h-1zM424 324h1v1h-1zM474 324h1v1h-1zM521 324h1v1h-1zM523 324h1v1h-1zM274 326h1v1h-1zM274 328h1v1h-1zM274 330h1v1h-1zM274 332h1v1h-1zM26 334h1v1h-1zM28 334h1v1h-1zM30 334h1v1h-1zM34 334h1v1h-1zM44 334h1v1h-1zM54 334h1v1h-1zM64 334h1v1h-1zM74 334h1v1h-1zM84 334h1v1h-1zM94 334h1v1h-1zM104 334h1v1h-1zM114 334h1v1h-1zM124 334h1v1h-1zM134 334h1v1h-1zM144 334h1v1h-1zM154 334h1v1h-1zM164 334h1v1h-1zM174 334h1v1h-1zM184 334h1v1h-1zM194 334h1v1h-1zM204 334h1v1h-1zM214 334h1v1h-1zM224 334h1v1h-1zM234 334h1v1h-1zM244 334h1v1h-1zM254 334h1v1h-1zM264 334h1v1h-1zM268 334h1v1h-1zM270 334h1v1h-1zM272 334h1v1h-1zM274 334h1v1h-1zM276 334h1v1h-1zM278 334h1v1h-1zM280 334h1v1h-1zM284 334h1v1h-1zM294 334h1v1h-1zM304 334h1v1h-1zM314 334h1v1h-1zM324 334h1v1h-1zM334 334h1v1h-1zM344 334h1v1h-1zM354 334h1v1h-1zM364 334h1v1h-1zM374 334h1v1h-1zM384 334h1v1h-1zM394 334h1v1h-1zM404 334h1v1h-1zM414 334h1v1h-1zM424 334h1v1h-1zM434 334h1v1h-1zM444 334h1v1h-1zM454 334h1v1h-1zM464 334h1v1h-1zM474 334h1v1h-1zM484 334h1v1h-1zM494 334h1v1h-1zM504 334h1v1h-1zM514 334h1v1h-1zM518 334h1v1h-1zM520 334h1v1h-1zM522 334h1v1h-1zM274 336h1v1h-1zM274 338h1v1h-1zM274 340h1v1h-1zM274 342h1v1h-1zM25 344h1v1h-1zM27 344h1v1h-1zM74 344h1v1h-1zM124 344h1v1h-1zM174 344h1v1h-1zM224 344h1v1h-1zM271 344h1v1h-1zM273 344h1v1h-1zM274 344h1v1h-1zM275 344h1v1h-1zM277 344h1v1h-1zM324 344h1v1h-1zM374 344h1v1h-1zM424 344h1v1h-1zM474 344h1v1h-1zM521 344h1v1h-1zM523 344h1v1h-1zM274 346h1v1h-1zM274 348h1v1h-1zM274 350h1v1h-1zM274 352h1v1h-1zM25 354h1v1h-1zM27 354h1v1h-1zM74 354h1v1h-1zM124 354h1v1h-1zM174 354h1v1h-1zM224 354h1v1h-1zM271 354h1v1h-1zM273 354h1v1h-1zM274 354h1v1h-1zM275 354h1v1h-1zM277 354h1v1h-1zM324 354h1v1h-1zM374 354h1v1h-1zM424 354h1v1h-1zM474 354h1v1h-1zM521 354h1v1h-1zM523 354h1v1h-1zM274 356h1v1h-1zM274 358h1v1h-1zM274 360h1v1h-1zM274 362h1v1h-1zM25 364h1v1h-1zM27 364h1v1h-1zM74 364h1v1h-1zM124 364h1v1h-1zM174 364h1v1h-1zM224 364h1v1h-1zM271 364h1v1h-1zM273 364h1v1h-1zM274 364h1v1h-1zM275 364h1v1h-1zM277 364h1v1h-1zM324 364h1v1h-1zM374 364h1v1h-1zM424 364h1v1h-1zM474 364h1v1h-1zM521 364h1v1h-1zM523 364h1v1h-1zM274 366h1v1h-1zM274 368h1v1h-1zM274 370h1v1h-1zM274 372h1v1h-1zM25 374h1v1h-1zM27 374h1v1h-1zM74 374h1v1h-1zM124 374h1v1h-1zM174 374h1v1h-1zM224 374h1v1h-1zM271 374h1v1h-1zM273 374h1v1h-1zM274 374h1v1h-1zM275 374h1v1h-1zM277 374h1v1h-1zM324 374h1v1h-1zM374 374h1v1h-1zM424 374h1v1h-1zM474 374h1v1h-1zM521 374h1v1h-1zM523 374h1v1h-1zM274 376h1v1h-1zM274 378h1v1h-1zM274 380h1v1h-1zM274 382h1v1h-1zM26 384h1v1h-1zM28 384h1v1h-1zM30 384h1v1h-1zM34 384h1v1h-1zM44 384h1v1h-1zM54 384h1v1h-1zM64 384h1v1h-1zM74 384h1v1h-1zM84 384h1v1h-1zM94 384h1v1h-1zM104 384h1v1h-1zM114 384h1v1h-1zM124 384h1v1h-1zM134 384h1v1h-1zM144 384h1v1h-1zM154 384h1v1h-1zM164 384h1v1h-1zM174 384h1v1h-1zM184 384h1v1h-1zM194 384h1v1h-1zM204 384h1v1h-1zM214 384h1v1h-1zM224 384h1v1h-1zM234 384h1v1h-1zM244 384h1v1h-1zM254 384h1v1h-1zM264 384h1v1h-1zM268 384h1v1h-1zM270 384h1v1h-1zM272 384h1v1h-1zM274 384h1v1h-1zM276 384h1v1h-1zM278 384h1v1h-1zM280 384h1v1h-1zM284 384h1v1h-1zM294 384h1v1h-1zM304 384h1v1h-1zM314 384h1v1h-1zM324 384h1v1h-1zM334 384h1v1h-1zM344 384h1v1h-1zM354 384h1v1h-1zM364 384h1v1h-1zM374 384h1v1h-1zM384 384h1v1h-1zM394 384h1v1h-1zM404 384h1v1h-1zM414 384h1v1h-1zM424 384h1v1h-1zM434 384h1v1h-1zM444 384h1v1h-1zM454 384h1v1h-1zM464 384h1v1h-1zM474 384h1v1h-1zM484 384h1v1h-1zM494 384h1v1h-1zM504 384h1v1h-1zM514 384h1v1h-1zM518 384h1v1h-1zM520 384h1v1h-1zM522 384h1v1h-1zM274 386h1v1h-1zM274 388h1v1h-1zM274 390h1v1h-1zM274 392h1v1h-1zM25 394h1v1h-1zM27 394h1v1h-1zM74 394h1v1h-1zM124 394h1v1h-1zM174 394h1v1h-1zM224 394h1v1h-1zM271 394h1v1h-1zM273 394h1v1h-1zM274 394h1v1h-1zM275 394h1v1h-1zM277 394h1v1h-1zM324 394h1v1h-1zM374 394h1v1h-1zM424 394h1v1h-1zM474 394h1v1h-1zM521 394h1v1h-1zM523 394h1v1h-1zM274 396h1v1h-1zM274 398h1v1h-1zM274 400h1v1h-1zM274 402h1v1h-1zM25 404h1v1h-1zM27 404h1v1h-1zM74 404h1v1h-1zM124 404h1v1h-1zM174 404h1v1h-1zM224 404h1v1h-1zM271 404h1v1h-1zM273 404h1v1h-1zM274 404h1v1h-1zM275 404h1v1h-1zM277 404h1v1h-1zM324 404h1v1h-1zM374 404h1v1h-1zM424 404h1v1h-1zM474 404h1v1h-1zM521 404h1v1h-1zM523 404h1v1h-1zM274 406h1v1h-1zM274 408h1v1h-1zM274 410h1v1h-1zM274 412h1v1h-1zM25 414h1v1h-1zM27 414h1v1h-1zM74 414h1v1h-1zM124 414h1v1h-1zM174 414h1v1h-1zM224 414h1v1h-1zM271 414h1v1h-1zM273 414h1v1h-1zM274 414h1v1h-1zM275 414h1v1h-1zM277 414h1v1h-1zM324 414h1v1h-1zM374 414h1v1h-1zM424 414h1v1h-1zM474 414h1v1h-1zM521 414h1v1h-1zM523 414h1v1h-1zM274 416h1v1h-1zM274 418h1v1h-1zM274 420h1v1h-1zM274 422h1v1h-1zM25 424h1v1h-1zM27 424h1v1h-1zM74 424h1v1h-1zM124 424h1v1h-1zM174 424h1v1h-1zM224 424h1v1h-1zM271 424h1v1h-1zM273 424h1v1h-1zM274 424h1v1h-1zM275 424h1v1h-1zM277 424h1v1h-1zM324 424h1v1h-1zM374 424h1v1h-1zM424 424h1v1h-1zM474 424h1v1h-1zM521 424h1v1h-1zM523 424h1v1h-1zM274 426h1v1h-1zM74 428h1v1h-1zM124 428h1v1h-1zM174 428h1v1h-1zM224 428h1v1h-1zM274 428h1v1h-1zM324 428h1v1h-1zM374 428h1v1h-1zM424 428h1v1h-1zM474 428h1v1h-1zM74 430h1v1h-1zM124 430h1v1h-1zM174 430h1v1h-1zM224 430h1v1h-1zM274 430h1v1h-1zM324 430h1v1h-1zM374 430h1v1h-1zM424 430h1v1h-1zM474 430h1v1h-1zM34 431h1v1h-1zM44 431h1v1h-1zM54 431h1v1h-1zM64 431h1v1h-1zM84 431h1v1h-1zM94 431h1v1h-1zM104 431h1v1h-1zM114 431h1v1h-1zM134 431h1v1h-1zM144 431h1v1h-1zM154 431h1v1h-1zM164 431h1v1h-1zM184 431h1v1h-1zM194 431h1v1h-1zM204 431h1v1h-1zM214 431h1v1h-1zM234 431h1v1h-1zM244 431h1v1h-1zM254 431h1v1h-1zM264 431h1v1h-1zM284 431h1v1h-1zM294 431h1v1h-1zM304 431h1v1h-1zM314 431h1v1h-1zM334 431h1v1h-1zM344 431h1v1h-1zM354 431h1v1h-1zM364 431h1v1h-1zM384 431h1v1h-1zM394 431h1v1h-1zM404 431h1v1h-1zM414 431h1v1h-1zM434 431h1v1h-1zM444 431h1v1h-1zM454 431h1v1h-1zM464 431h1v1h-1zM484 431h1v1h-1zM494 431h1v1h-1zM504 431h1v1h-1zM514 431h1v1h-1zM74 432h1v1h-1zM124 432h1v1h-1zM174 432h1v1h-1zM224 432h1v1h-1zM274 432h1v1h-1zM324 432h1v1h-1zM374 432h1v1h-1zM424 432h1v1h-1zM474 432h1v1h-1zM34 433h1v1h-1zM44 433h1v1h-1zM54 433h1v1h-1zM64 433h1v1h-1zM84 433h1v1h-1zM94 433h1v1h-1zM104 433h1v1h-1zM114 433h1v1h-1zM134 433h1v1h-1zM144 433h1v1h-1zM154 433h1v1h-1zM164 433h1v1h-1zM184 433h1v1h-1zM194 433h1v1h-1zM204 433h1v1h-1zM214 433h1v1h-1zM234 433h1v1h-1zM244 433h1v1h-1zM254 433h1v1h-1zM264 433h1v1h-1zM284 433h1v1h-1zM294 433h1v1h-1zM304 433h1v1h-1zM314 433h1v1h-1zM334 433h1v1h-1zM344 433h1v1h-1zM354 433h1v1h-1zM364 433h1v1h-1zM384 433h1v1h-1zM394 433h1v1h-1zM404 433h1v1h-1zM414 433h1v1h-1zM434 433h1v1h-1zM444 433h1v1h-1zM454 433h1v1h-1zM464 433h1v1h-1zM484 433h1v1h-1zM494 433h1v1h-1zM504 433h1v1h-1zM514 433h1v1h-1z" fill="#000"/></g>
<!-- frame -->
<rect x="30" y="43" width="2" height="501" fill="#000"/>
<rect x="30" y="43" width="627" height="1.3" fill="#000"/>
<rect x="655" y="43" width="2" height="501" fill="#000"/>
<rect x="30" y="542.7" width="627" height="1.3" fill="#000"/>
<!-- traces -->
<path d="M31.25 227L61.25 227L61.25 228L72.5 228L72.5 227L98.75 227L98.75 228L133.75 228L133.75 227L142.5 227L142.5 226L146.25 226L146.25 225L151.25 225L151.25 224L157.5 224L157.5 223L163.75 223L163.75 222L168.75 222L168.75 221L171.25 221L171.25 220L176.25 220L176.25 219L181.25 219L181.25 218L185 218L185 217L187.5 217L187.5 216L190 216L190 215L192.5 215L192.5 214L196.25 214L196.25 213L200 213L200 212L202.5 212L202.5 211L205 211L205 210L206.25 210L206.25 209L208.75 209L208.75 208L211.25 208L211.25 207L212.5 207L212.5 206L215 206L215 205L216.25 205L216.25 204L218.75 204L218.75 203L220 203L220 202L222.5 202L222.5 201L225 201L225 200L226.25 200L226.25 199L228.75 199L228.75 198L231.25 198L231.25 197L232.5 197L232.5 196L235 196L235 195L236.25 195L236.25 194L238.75 194L238.75 193L240 193L240 192L241.25 192L241.25 191L243.75 191L243.75 190L245 190L245 189L246.25 189L246.25 188L248.75 188L248.75 187L250 187L250 186L251.25 186L251.25 185L252.5 185L252.5 184L255 184L255 183L256.25 183L256.25 182L257.5 182L257.5 181L260 181L260 180L261.25 180L261.25 179L263.75 179L263.75 178L265 178L265 177L267.5 177L267.5 176L268.75 176L268.75 175L270 175L270 174L271.25 174L271.25 173L272.5 173L272.5 172L275 172L275 171L276.25 171L276.25 170L277.5 170L277.5 169L278.75 169L278.75 168L280 168L280 167L281.25 167L281.25 166L282.5 166L282.5 165L285 165L285 164L286.25 164L286.25 163L287.5 163L287.5 162L288.75 162L288.75 161L290 161L290 160L291.25 160L291.25 159L292.5 159L292.5 158L293.75 158L293.75 157L295 157L295 156L296.25 156L296.25 155L298.75 155L298.75 154L300 154L300 153L301.25 153L301.25 152L302.5 152L302.5 151L303.75 151L303.75 150L305 150L305 149L307.5 149L307.5 148L308.75 148L308.75 147L310 147L310 146L312.5 146L312.5 145L313.75 145L313.75 144L315 144L315 143L317.5 143L317.5 142L318.75 142L318.75 141L320 141L320 140L321.25 140L321.25 139L322.5 139L322.5 138L323.75 138L323.75 137L325 137L325 136L326.25 136L326.25 135L327.5 135L327.5 134L328.75 134L328.75 133L330 133L330 132L332.5 132L332.5 131L333.75 131L333.75 130L335 130L335 129L336.25 129L336.25 128L337.5 128L337.5 127L340 127L340 126L341.25 126L341.25 125L342.5 125L342.5 124L343.75 124L343.75 123L345 123L345 122L347.5 122L347.5 121L348.75 121L348.75 120L350 120L350 119L351.25 119L351.25 118L353.75 118L353.75 117L355 117L355 116L357.5 116L357.5 115L358.75 115L358.75 114L360 114L360 113L362.5 113L362.5 112L363.75 112L363.75 111L366.25 111L366.25 110L368.75 110L368.75 109L370 109L370 108L372.5 108L372.5 107L373.75 107L373.75 106L376.25 106L376.25 105L378.75 105L378.75 104L380 104L380 103L382.5 103L382.5 102L386.25 102L386.25 101L388.75 101L388.75 100L391.25 100L391.25 99L393.75 99L393.75 98L396.25 98L396.25 97L398.75 97L398.75 96L401.25 96L401.25 95L405 95L405 94L407.5 94L407.5 93L411.25 93L411.25 92L413.75 92L413.75 91L416.25 91L416.25 90L420 90L420 89L422.5 89L422.5 88L427.5 88L427.5 87L431.25 87L431.25 86L433.75 86L433.75 85L437.5 85L437.5 84L440 84L440 83L443.75 83L443.75 82L447.5 82L447.5 81L451.25 81L451.25 80L455 80L455 79L458.75 79L458.75 78L471.25 78L471.25 77L497.5 77L497.5 76L562.5 76L562.5 77L590 77L590 78L655 78L655 88L591.25 88L591.25 87L588.75 87L588.75 86L525 86L525 87L518.75 87L518.75 88L513.75 88L513.75 89L507.5 89L507.5 90L502.5 90L502.5 91L498.75 91L498.75 92L493.75 92L493.75 93L488.75 93L488.75 94L485 94L485 95L481.25 95L481.25 96L477.5 96L477.5 97L473.75 97L473.75 98L470 98L470 99L466.25 99L466.25 100L463.75 100L463.75 101L460 101L460 102L457.5 102L457.5 103L455 103L455 104L452.5 104L452.5 105L450 105L450 106L447.5 106L447.5 107L445 107L445 108L442.5 108L442.5 109L440 109L440 110L437.5 110L437.5 111L435 111L435 112L432.5 112L432.5 113L431.25 113L431.25 114L428.75 114L428.75 115L427.5 115L427.5 116L425 116L425 117L423.75 117L423.75 118L421.25 118L421.25 119L420 119L420 120L418.75 120L418.75 121L416.25 121L416.25 122L415 122L415 123L413.75 123L413.75 124L411.25 124L411.25 125L410 125L410 126L407.5 126L407.5 127L405 127L405 128L402.5 128L402.5 129L400 129L400 130L398.75 130L398.75 131L396.25 131L396.25 132L395 132L395 133L393.75 133L393.75 134L391.25 134L391.25 135L390 135L390 136L388.75 136L388.75 137L387.5 137L387.5 138L385 138L385 139L383.75 139L383.75 140L382.5 140L382.5 141L381.25 141L381.25 142L380 142L380 143L378.75 143L378.75 144L377.5 144L377.5 145L375 145L375 146L373.75 146L373.75 147L372.5 147L372.5 148L371.25 148L371.25 149L370 149L370 150L368.75 150L368.75 151L367.5 151L367.5 152L366.25 152L366.25 153L365 153L365 154L363.75 154L363.75 155L362.5 155L362.5 156L361.25 156L361.25 157L360 157L360 158L358.75 158L358.75 159L357.5 159L357.5 160L355 160L355 161L353.75 161L353.75 162L352.5 162L352.5 163L351.25 163L351.25 164L350 164L350 165L348.75 165L348.75 166L347.5 166L347.5 167L346.25 167L346.25 168L343.75 168L343.75 169L342.5 169L342.5 170L341.25 170L341.25 171L340 171L340 172L337.5 172L337.5 173L336.25 173L336.25 174L335 174L335 175L333.75 175L333.75 176L332.5 176L332.5 177L331.25 177L331.25 178L328.75 178L328.75 179L327.5 179L327.5 180L326.25 180L326.25 181L325 181L325 182L323.75 182L323.75 183L322.5 183L322.5 184L321.25 184L321.25 185L320 185L320 186L318.75 186L318.75 187L316.25 187L316.25 188L315 188L315 189L313.75 189L313.75 190L312.5 190L312.5 191L310 191L310 192L308.75 192L308.75 193L307.5 193L307.5 194L305 194L305 195L303.75 195L303.75 196L301.25 196L301.25 197L300 197L300 198L298.75 198L298.75 199L296.25 199L296.25 200L295 200L295 201L292.5 201L292.5 202L291.25 202L291.25 203L288.75 203L288.75 204L287.5 204L287.5 205L286.25 205L286.25 206L283.75 206L283.75 207L282.5 207L282.5 208L280 208L280 209L276.25 209L276.25 210L273.75 210L273.75 211L270 211L270 212L267.5 212L267.5 213L265 213L265 214L262.5 214L262.5 215L260 215L260 216L258.75 216L258.75 217L256.25 217L256.25 218L253.75 218L253.75 219L251.25 219L251.25 220L247.5 220L247.5 221L245 221L245 222L242.5 222L242.5 223L238.75 223L238.75 224L236.25 224L236.25 225L232.5 225L232.5 226L228.75 226L228.75 227L223.75 227L223.75 228L217.5 228L217.5 229L210 229L210 230L203.75 230L203.75 231L198.75 231L198.75 232L190 232L190 233L182.5 233L182.5 234L171.25 234L171.25 235L168.75 235L168.75 237L151.25 237L151.25 235L137.5 235L137.5 236L136.25 236L136.25 237L126.25 237L126.25 235L31.25 235Z" fill="#000" shape-rendering="crispEdges"/>
<path d="M31.25 475L45 475L45 474L71.25 474L71.25 473L96.25 473L96.25 472L108.75 472L108.75 470L118.75 470L118.75 469L132.5 469L132.5 467L141.25 467L141.25 466L142.5 466L142.5 465L147.5 465L147.5 464L153.75 464L153.75 463L158.75 463L158.75 462L162.5 462L162.5 461L166.25 461L166.25 460L170 460L170 459L173.75 459L173.75 458L177.5 458L177.5 457L181.25 457L181.25 456L185 456L185 455L187.5 455L187.5 454L191.25 454L191.25 453L193.75 453L193.75 452L197.5 452L197.5 451L200 451L200 450L203.75 450L203.75 449L207.5 449L207.5 448L211.25 448L211.25 447L215 447L215 446L218.75 446L218.75 445L221.25 445L221.25 444L223.75 444L223.75 443L226.25 443L226.25 442L228.75 442L228.75 441L231.25 441L231.25 440L233.75 440L233.75 439L236.25 439L236.25 438L238.75 438L238.75 437L241.25 437L241.25 436L245 436L245 435L247.5 435L247.5 434L250 434L250 433L252.5 433L252.5 432L256.25 432L256.25 431L258.75 431L258.75 430L261.25 430L261.25 429L263.75 429L263.75 428L267.5 428L267.5 427L268.75 427L268.75 426L272.5 426L272.5 425L273.75 425L273.75 424L277.5 424L277.5 423L278.75 423L278.75 422L282.5 422L282.5 421L283.75 421L283.75 420L287.5 420L287.5 419L288.75 419L288.75 418L292.5 418L292.5 417L293.75 417L293.75 416L297.5 416L297.5 415L298.75 415L298.75 414L301.25 414L301.25 413L303.75 413L303.75 412L306.25 412L306.25 411L308.75 411L308.75 410L311.25 410L311.25 409L312.5 409L312.5 408L315 408L315 407L317.5 407L317.5 406L320 406L320 405L322.5 405L322.5 404L325 404L325 403L327.5 403L327.5 402L331.25 402L331.25 401L332.5 401L332.5 400L335 400L335 399L337.5 399L337.5 398L338.75 398L338.75 397L341.25 397L341.25 396L343.75 396L343.75 395L346.25 395L346.25 394L347.5 394L347.5 393L350 393L350 392L352.5 392L352.5 391L355 391L355 390L357.5 390L357.5 389L360 389L360 388L362.5 388L362.5 387L363.75 387L363.75 386L367.5 386L367.5 385L368.75 385L368.75 384L372.5 384L372.5 383L373.75 383L373.75 382L377.5 382L377.5 381L378.75 381L378.75 380L381.25 380L381.25 379L383.75 379L383.75 378L386.25 378L386.25 377L388.75 377L388.75 376L391.25 376L391.25 375L393.75 375L393.75 374L396.25 374L396.25 373L398.75 373L398.75 372L401.25 372L401.25 371L403.75 371L403.75 370L407.5 370L407.5 369L410 369L410 368L412.5 368L412.5 367L416.25 367L416.25 366L418.75 366L418.75 365L422.5 365L422.5 364L426.25 364L426.25 363L428.75 363L428.75 362L432.5 362L432.5 361L435 361L435 360L438.75 360L438.75 359L442.5 359L442.5 358L445 358L445 357L447.5 357L447.5 356L451.25 356L451.25 355L453.75 355L453.75 354L456.25 354L456.25 353L458.75 353L458.75 352L462.5 352L462.5 351L465 351L465 350L468.75 350L468.75 349L471.25 349L471.25 348L475 348L475 347L477.5 347L477.5 346L481.25 346L481.25 345L485 345L485 344L488.75 344L488.75 343L492.5 343L492.5 342L497.5 342L497.5 341L501.25 341L501.25 340L505 340L505 339L508.75 339L508.75 338L512.5 338L512.5 337L516.25 337L516.25 336L520 336L520 335L523.75 335L523.75 334L528.75 334L528.75 333L533.75 333L533.75 332L538.75 332L538.75 331L543.75 331L543.75 330L548.75 330L548.75 329L556.25 329L556.25 328L563.75 328L563.75 327L570 327L570 326L578.75 326L578.75 325L587.5 325L587.5 324L595 324L595 323L602.5 323L602.5 322L610 322L610 321L616.25 321L616.25 320L626.25 320L626.25 319L635 319L635 318L642.5 318L642.5 317L655 317L655 334L638.75 334L638.75 335L616.25 335L616.25 336L611.25 336L611.25 337L603.75 337L603.75 338L593.75 338L593.75 339L586.25 339L586.25 340L580 340L580 341L572.5 341L572.5 342L566.25 342L566.25 343L562.5 343L562.5 344L556.25 344L556.25 345L552.5 345L552.5 346L546.25 346L546.25 347L541.25 347L541.25 348L535 348L535 349L530 349L530 350L525 350L525 351L520 351L520 352L515 352L515 353L511.25 353L511.25 354L506.25 354L506.25 355L502.5 355L502.5 356L498.75 356L498.75 357L495 357L495 358L491.25 358L491.25 359L487.5 359L487.5 360L483.75 360L483.75 361L480 361L480 362L476.25 362L476.25 363L472.5 363L472.5 364L470 364L470 365L466.25 365L466.25 366L462.5 366L462.5 367L458.75 367L458.75 368L455 368L455 369L452.5 369L452.5 370L448.75 370L448.75 371L446.25 371L446.25 372L442.5 372L442.5 373L438.75 373L438.75 374L436.25 374L436.25 375L433.75 375L433.75 376L430 376L430 377L427.5 377L427.5 378L425 378L425 379L422.5 379L422.5 380L418.75 380L418.75 381L417.5 381L417.5 382L413.75 382L413.75 383L412.5 383L412.5 384L408.75 384L408.75 385L407.5 385L407.5 386L403.75 386L403.75 387L402.5 387L402.5 388L400 388L400 389L397.5 389L397.5 390L395 390L395 391L392.5 391L392.5 392L390 392L390 393L388.75 393L388.75 394L386.25 394L386.25 395L383.75 395L383.75 396L381.25 396L381.25 397L380 397L380 398L376.25 398L376.25 399L375 399L375 400L371.25 400L371.25 401L370 401L370 402L366.25 402L366.25 403L365 403L365 404L361.25 404L361.25 405L360 405L360 406L357.5 406L357.5 407L355 407L355 408L352.5 408L352.5 409L350 409L350 410L347.5 410L347.5 411L346.25 411L346.25 412L343.75 412L343.75 413L341.25 413L341.25 414L338.75 414L338.75 415L336.25 415L336.25 416L333.75 416L333.75 417L331.25 417L331.25 418L330 418L330 419L327.5 419L327.5 420L325 420L325 421L322.5 421L322.5 422L320 422L320 423L317.5 423L317.5 424L315 424L315 425L312.5 425L312.5 426L310 426L310 427L307.5 427L307.5 428L305 428L305 429L302.5 429L302.5 430L298.75 430L298.75 431L297.5 431L297.5 432L293.75 432L293.75 433L292.5 433L292.5 434L288.75 434L288.75 435L287.5 435L287.5 436L283.75 436L283.75 437L282.5 437L282.5 438L280 438L280 439L277.5 439L277.5 440L275 440L275 441L272.5 441L272.5 442L270 442L270 443L267.5 443L267.5 444L265 444L265 445L262.5 445L262.5 446L260 446L260 447L257.5 447L257.5 448L255 448L255 449L251.25 449L251.25 450L248.75 450L248.75 451L245 451L245 452L242.5 452L242.5 453L240 453L240 454L236.25 454L236.25 455L235 455L235 456L231.25 456L231.25 457L230 457L230 458L226.25 458L226.25 459L225 459L225 460L221.25 460L221.25 461L218.75 461L218.75 462L216.25 462L216.25 463L213.75 463L213.75 464L211.25 464L211.25 465L208.75 465L208.75 466L206.25 466L206.25 467L203.75 467L203.75 468L200 468L200 469L197.5 469L197.5 470L195 470L195 471L192.5 471L192.5 472L190 472L190 473L185 473L185 474L181.25 474L181.25 475L176.25 475L176.25 476L171.25 476L171.25 477L167.5 477L167.5 478L160 478L160 479L153.75 479L153.75 480L150 480L150 481L147.5 481L147.5 482L138.75 482L138.75 484L121.25 484L121.25 485L113.75 485L113.75 486L101.25 486L101.25 487L92.5 487L92.5 488L71.25 488L71.25 490L31.25 490Z" fill="#000" shape-rendering="crispEdges"/>
<!-- trigger position bar -->
<path d="M181.1 19.75h4.9v-.75h4v.75h2.9v2.25h-4.5v12.75h1.7v2.1h-4v-14.85h-5z" fill="#000"/>
<path d="M189.4 28.5H497" stroke="#000" stroke-width="1" stroke-dasharray="1.25 1.25" fill="none" shape-rendering="crispEdges"/>
<path d="M497 19h5.4v18h-5.4v-1.6h2.7v-14.8h-2.7z" fill="#000"/>
<!-- falling edge -->
<path d="M532 546.2h5l4.2 11.5h5.5" stroke="#000" stroke-width="2.4" fill="none"/>
</svg>
<div class="bx" style="left:44px;top:0;width:54px;height:18.6px"></div>
<div class="bx" style="left:209px;top:543.6px;width:39px;height:19.2px"></div>
<div class="bx" style="left:4px;top:77px;width:27px;height:18.8px"></div>
<span class="t" style="left:-0.07px;top:-3.10px;font-size:22px;line-height:22px;letter-spacing:0.60px;font-weight:700;">Tek</span>
<span class="t" style="left:44.13px;top:-0.40px;font-size:18.5px;line-height:18.5px;letter-spacing:0.60px;font-weight:700;color:#fff;transform:scaleX(1.086);">Stop:</span>
<span class="t" style="left:104.20px;top:-1.40px;font-size:19.6px;line-height:19.6px;letter-spacing:0.60px;transform:scaleX(1.052);text-shadow:0.8px 0 0 #000;">Single</span>
<span class="t" style="left:171.75px;top:-1.40px;font-size:19.6px;line-height:19.6px;letter-spacing:0.60px;transform:scaleX(0.935);text-shadow:0.8px 0 0 #000;">Seq</span>
<span class="t" style="left:221.81px;top:-1.40px;font-size:19.6px;line-height:19.6px;letter-spacing:3.42px;font-weight:700;transform:scaleX(0.880);text-shadow:0.2px 0 0 #000;">1.00</span>
<span class="t" style="left:263.72px;top:-1.40px;font-size:19.6px;line-height:19.6px;transform:scaleX(1.054);text-shadow:0.8px 0 0 #000;">GS/s</span>
<span class="t" style="left:36.10px;top:542.70px;font-size:19.6px;line-height:19.6px;letter-spacing:0.60px;transform:scaleX(0.857);text-shadow:0.8px 0 0 #000;">C1</span>
<span class="sm" style="left:62px;top:543.6px;transform:scaleX(0.55)">D</span><span class="sm" style="left:66.2px;top:548.6px;transform:scaleX(0.72)">S</span>
<span class="t" style="left:90.45px;top:542.70px;font-size:19.6px;line-height:19.6px;letter-spacing:3.14px;font-weight:700;transform:scaleX(0.880);text-shadow:0.2px 0 0 #000;">20.0</span>
<span class="t" style="left:135.11px;top:542.70px;font-size:19.6px;line-height:19.6px;letter-spacing:0.60px;transform:scaleX(0.954);text-shadow:0.8px 0 0 #000;">mV</span>
<span class="t" style="left:166.65px;top:542.70px;font-size:19.6px;line-height:19.6px;transform:scaleX(1.025);text-shadow:0.3px 0 0 #000;">Ω</span>
<span class="t" style="left:209.43px;top:542.70px;font-size:19.6px;line-height:19.6px;letter-spacing:0.60px;color:#fff;transform:scaleX(0.924);text-shadow:0.8px 0 0 #fff;">C2</span>
<span class="sm" style="left:236.5px;top:543.6px;transform:scaleX(0.5);color:#fff">D</span><span class="sm" style="left:240.3px;top:548.6px;transform:scaleX(0.62);color:#fff">S</span>
<span class="t" style="left:271.31px;top:542.70px;font-size:19.6px;line-height:19.6px;letter-spacing:3.14px;font-weight:700;transform:scaleX(0.880);text-shadow:0.2px 0 0 #000;">500</span>
<span class="t" style="left:307.65px;top:542.70px;font-size:19.6px;line-height:19.6px;letter-spacing:0.60px;transform:scaleX(0.996);text-shadow:0.8px 0 0 #000;">mV</span>
<span class="t" style="left:339.23px;top:542.70px;font-size:19.6px;line-height:19.6px;transform:scaleX(1.055);text-shadow:0.3px 0 0 #000;">Ω</span>
<span class="t" style="left:376.37px;top:542.70px;font-size:19.6px;line-height:19.6px;transform:scaleX(1.011);text-shadow:0.8px 0 0 #000;">M</span>
<span class="t" style="left:400.91px;top:542.70px;font-size:19.6px;line-height:19.6px;letter-spacing:3.16px;font-weight:700;transform:scaleX(0.880);text-shadow:0.2px 0 0 #000;">5.00</span>
<span class="t" style="left:443.51px;top:542.70px;font-size:19.6px;line-height:19.6px;letter-spacing:0.60px;transform:scaleX(1.098);text-shadow:0.8px 0 0 #000;">ns</span>
<span class="t" style="left:483.93px;top:542.70px;font-size:19.6px;line-height:19.6px;letter-spacing:0.60px;transform:scaleX(1.018);text-shadow:0.8px 0 0 #000;">Ch4</span>
<span class="t" style="left:566.84px;top:542.70px;font-size:19.6px;line-height:19.6px;transform:scaleX(1.161);">−</span>
<span class="t" style="left:582.12px;top:542.70px;font-size:19.6px;line-height:19.6px;letter-spacing:4.39px;font-weight:700;transform:scaleX(0.880);text-shadow:0.2px 0 0 #000;">730</span>
<span class="t" style="left:618.54px;top:542.70px;font-size:19.6px;line-height:19.6px;letter-spacing:0.60px;transform:scaleX(1.006);text-shadow:0.8px 0 0 #000;">mV</span>
<span class="t" style="left:376.48px;top:561.50px;font-size:19.6px;line-height:19.6px;transform:scaleX(0.942);text-shadow:0.8px 0 0 #000;">D</span>
<span class="t" style="left:408.31px;top:561.50px;font-size:19.6px;line-height:19.6px;letter-spacing:3.37px;font-weight:700;transform:scaleX(0.880);text-shadow:0.2px 0 0 #000;">500</span>
<span class="t" style="left:444.20px;top:561.50px;font-size:19.6px;line-height:19.6px;letter-spacing:0.60px;transform:scaleX(1.066);text-shadow:0.8px 0 0 #000;">ps</span>
<span class="t" style="left:484.74px;top:561.50px;font-size:19.6px;line-height:19.6px;letter-spacing:0.60px;transform:scaleX(1.027);text-shadow:0.8px 0 0 #000;">Runs</span>
<span class="t" style="left:541.74px;top:561.50px;font-size:19.6px;line-height:19.6px;letter-spacing:0.60px;transform:scaleX(1.125);text-shadow:0.8px 0 0 #000;">After</span>
<span class="t" style="left:663.85px;top:546.50px;font-size:19.6px;line-height:19.6px;letter-spacing:1.30px;font-weight:700;transform:scaleX(0.880);text-shadow:0.2px 0 0 #000;">21</span>
<span class="t" style="left:695.32px;top:546.50px;font-size:19.6px;line-height:19.6px;letter-spacing:0.60px;transform:scaleX(1.203);text-shadow:0.8px 0 0 #000;">Apr</span>
<span class="t" style="left:742.61px;top:546.50px;font-size:19.6px;line-height:19.6px;letter-spacing:2.78px;font-weight:700;transform:scaleX(0.880);text-shadow:0.2px 0 0 #000;">1998</span>
<span class="t" style="left:666.01px;top:571.60px;font-size:19.6px;line-height:19.6px;letter-spacing:2.82px;font-weight:700;transform:scaleX(0.880);text-shadow:0.2px 0 0 #000;">14:38:59</span>
<span class="t" style="left:5.8px;top:75.6px;font-size:19.6px;line-height:19px;color:#fff;text-shadow:0.8px 0 0 #fff;transform:scaleX(0.9)">2</span>
<span class="t" style="left:7.2px;top:476.6px;font-size:19.6px;line-height:19px;text-shadow:1.4px 0 0 #000;transform:scaleX(0.68)">1</span>
<svg width="800" height="600" viewBox="0 0 800 600">
<path d="M18 84h6v-2.8l5.2 3.6l-5.2 3.6v-2.8h-6z" fill="#fff"/>
<path d="M18 484h6v-4l5.2 4.6l-5.2 4.6v-4h-6z" fill="#000"/>
</svg>
</body></html>
